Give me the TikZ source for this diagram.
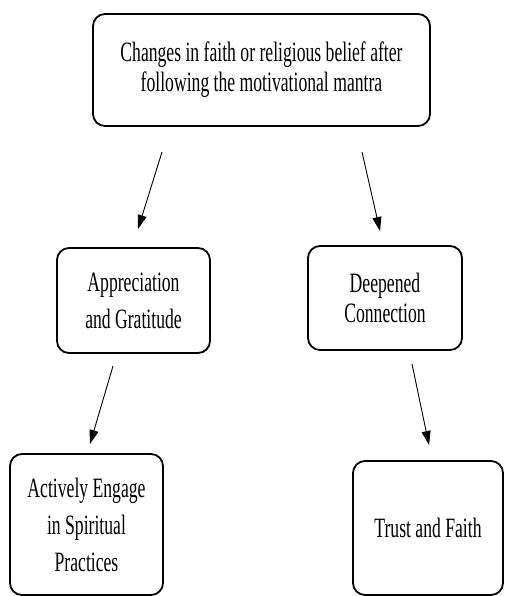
\documentclass[tikz,border=0pt]{standalone}
\usepackage{fontspec}
\setmainfont{Liberation Serif}[FakeStretch=0.63]
\usepackage{tikz}
\usetikzlibrary{arrows.meta, positioning}
\usepackage{xcolor}

\begin{document}
\begin{tikzpicture}[
    x=1pt, y=-1pt,
    box/.style={draw, rectangle, rounded corners=12pt, line width=1.8pt, align=center, inner sep=2pt, font=\fontsize{28}{30}\selectfont},
    tallbox/.style={box, font=\fontsize{28}{37}\selectfont},
    arrow/.style={-{Triangle[length=14pt, width=9pt]}, line width=0.9pt}
]
\useasboundingbox (0,0) rectangle (504,596);

% Etapa principal
\node[box, minimum width=337pt, minimum height=112pt] (change) at (261.5,70) {Changes in faith or religious belief after\\following the motivational mantra};

% Segundo nivel
\node[tallbox, minimum width=153pt, minimum height=105pt] (appreciation) at (133.5,300.5) {Appreciation\\and Gratitude};
\node[box, minimum width=154pt, minimum height=104pt] (deepened) at (385,298) {Deepened\\Connection};

% Terceiro nivel
\node[tallbox, minimum width=153pt, minimum height=141pt] (engage) at (86.5,524.5) {Actively Engage\\in Spiritual\\Practices};
\node[box, minimum width=150pt, minimum height=134pt] (trust) at (428,528) {Trust and Faith};

% Pontas soltas das setas
\coordinate (c1) at (162,152);
\coordinate (a1) at (138,229);
\coordinate (c2) at (362,152);
\coordinate (d2) at (380,231);
\coordinate (a3) at (113,366);
\coordinate (e3) at (90,444);
\coordinate (d4) at (412,364);
\coordinate (t4) at (429,445);

% Setas
\draw[arrow] (c1) -- (a1);
\draw[arrow] (c2) -- (d2);
\draw[arrow] (a3) -- (e3);
\draw[arrow] (d4) -- (t4);

\end{tikzpicture}
\end{document}
